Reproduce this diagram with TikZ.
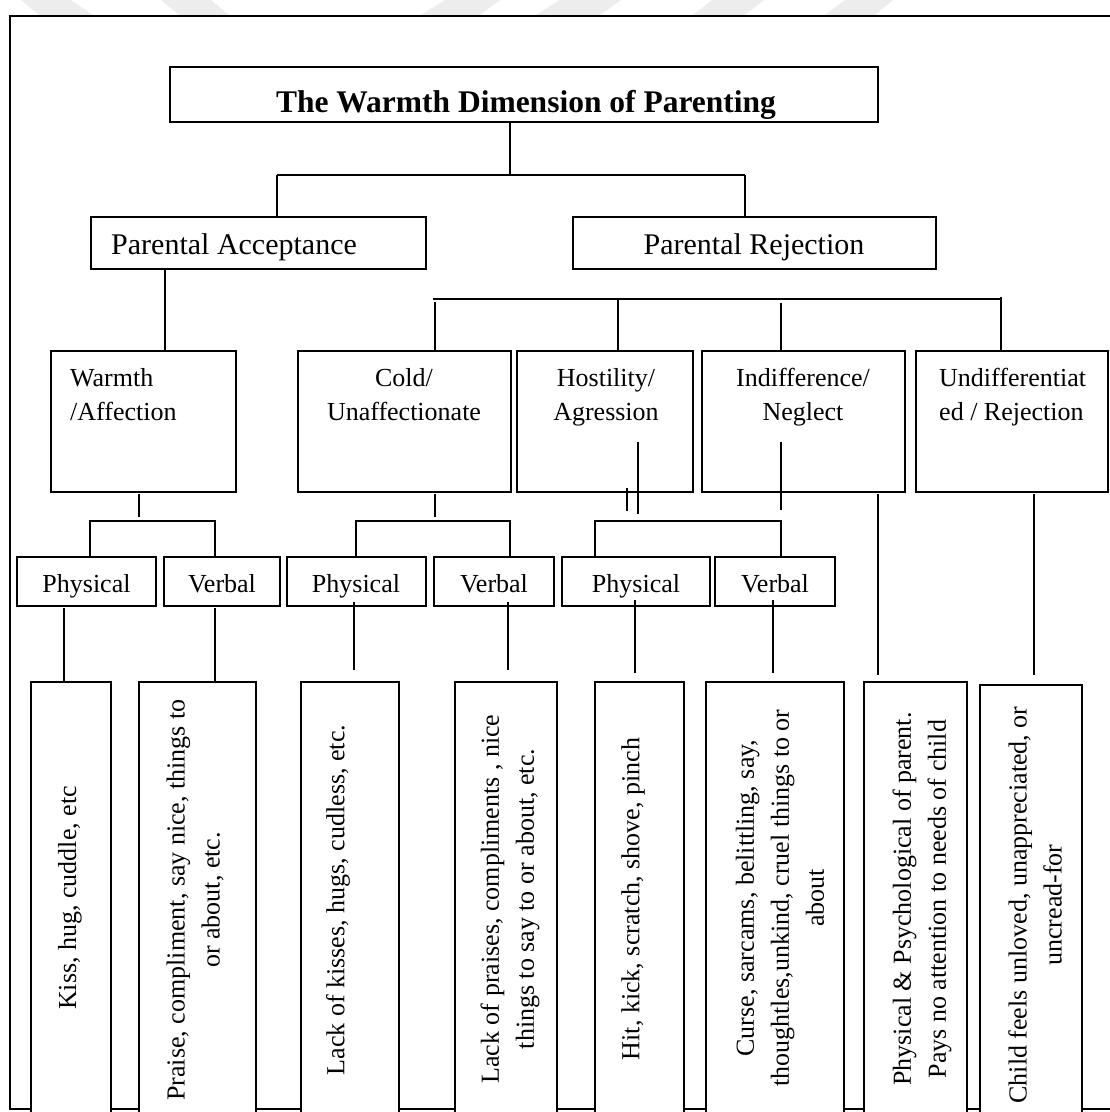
\documentclass[tikz,border=0pt]{standalone}
\usepackage{fontspec}
\setmainfont{Liberation Serif}
\begin{document}
\begin{tikzpicture}[x=1pt,y=-1pt,
  bx/.style={draw=black, line width=1.8pt, fill=white, inner sep=0pt, outer sep=0pt, anchor=north west},
  ln/.style={line width=1.6pt},
  bodytxt/.style={font=\fontsize{26}{34}\selectfont, inner sep=0pt},
  bigtxt/.style={font=\fontsize{30}{36}\selectfont, inner sep=0pt},
  vtxt/.style={font=\fontsize{26}{35}\selectfont, inner sep=0pt, rotate=90, align=center},
  wm/.style={fill=black!7}
]
\useasboundingbox (0,0) rectangle (1110,1112);
% faint watermark stripes
\fill[wm] (21,0) -- (71,0) -- (93,15) -- (39,15) -- cycle;
\fill[wm] (161,0) -- (211,0) -- (229,15) -- (179,15) -- cycle;
\fill[wm] (445,0) -- (500,0) -- (480,15) -- (421,15) -- cycle;
\fill[wm] (560,0) -- (621,0) -- (600,15) -- (536,15) -- cycle;
\fill[wm] (712,0) -- (764,0) -- (745,15) -- (693,15) -- cycle;
\fill[wm] (845,0) -- (893,0) -- (875,15) -- (825,15) -- cycle;
% outer frame
\draw[line width=2pt] (1120,16) -- (10,16) -- (10,1109) -- (1120,1109);

% boxes
\node[bx, minimum width=708pt, minimum height=55pt] (title) at (170,67) {};
\node[bx, minimum width=335pt, minimum height=52pt] (acc) at (91,217) {};
\node[bx, minimum width=363pt, minimum height=52pt] (rej) at (573,217) {};
\node[bx, minimum width=185pt, minimum height=141pt] (warm) at (51,351) {};
\node[bx, minimum width=213pt, minimum height=141pt] (cold) at (298,351) {};
\node[bx, minimum width=176pt, minimum height=141pt] (host) at (517,351) {};
\node[bx, minimum width=203pt, minimum height=141pt] (indif) at (702,351) {};
\node[bx, minimum width=192pt, minimum height=141pt] (undif) at (916,351) {};
\node[bx, minimum width=139pt, minimum height=49pt] (p1) at (17,557) {};
\node[bx, minimum width=116pt, minimum height=49pt] (v1) at (164,557) {};
\node[bx, minimum width=139pt, minimum height=49pt] (p2) at (287,557) {};
\node[bx, minimum width=120pt, minimum height=49pt] (v2) at (434,557) {};
\node[bx, minimum width=148pt, minimum height=49pt] (p3) at (562,557) {};
\node[bx, minimum width=120pt, minimum height=49pt] (v3) at (715,557) {};
\node[bx, minimum width=80pt, minimum height=445pt] (kiss) at (31,682) {};
\node[bx, minimum width=117pt, minimum height=445pt] (praise) at (139,682) {};
\node[bx, minimum width=98pt, minimum height=445pt] (lackk) at (301,682) {};
\node[bx, minimum width=102pt, minimum height=445pt] (lackp) at (455,682) {};
\node[bx, minimum width=89pt, minimum height=445pt] (hit) at (595,682) {};
\node[bx, minimum width=138pt, minimum height=445pt] (curse) at (706,682) {};
\node[bx, minimum width=103pt, minimum height=445pt] (pp) at (864,682) {};
\node[bx, minimum width=102pt, minimum height=442pt] (child) at (980,685) {};

% connector coordinates
\coordinate (t1) at (510,175);
\coordinate (tl) at (277,175);
\coordinate (tr) at (745,175);
\coordinate (a1) at (165,300);
\coordinate (rl) at (433,299);
\coordinate (rr) at (1001,299);
\coordinate (rc) at (435,302);
\coordinate (rh) at (618,299);
\coordinate (ri) at (781,303);
\coordinate (ru) at (1001,297);
\coordinate (w0) at (139,494);
\coordinate (w1) at (139,517);
\coordinate (wl) at (90,521);
\coordinate (wr) at (215,521);
\coordinate (c0) at (435,494);
\coordinate (c1) at (435,517);
\coordinate (cl) at (356,521);
\coordinate (cr) at (510,521);
\coordinate (h0) at (638,442);
\coordinate (h1) at (638,514);
\coordinate (s0) at (627,488);
\coordinate (s1) at (627,511);
\coordinate (n0) at (781,442);
\coordinate (n1) at (781,510);
\coordinate (hl) at (595,521);
\coordinate (hr) at (781,521);
\coordinate (k0) at (64,608);
\coordinate (q0) at (215,608);
\coordinate (m0) at (354,602);
\coordinate (m1) at (354,670);
\coordinate (o0) at (508,602);
\coordinate (o1) at (508,670);
\coordinate (x0) at (635,600);
\coordinate (x1) at (635,673);
\coordinate (y0) at (773,600);
\coordinate (y1) at (773,673);
\coordinate (g0) at (878,494);
\coordinate (g1) at (878,675);
\coordinate (u0) at (1034,494);
\coordinate (u1) at (1034,675);

% connectors
\draw[ln] (t1 |- title.south) -- (t1);
\draw[ln] (tl) -- (tr);
\draw[ln] (tl) -- (tl |- acc.north);
\draw[ln] (tr) -- (tr |- rej.north);
\draw[ln] (a1 |- acc.south) -- (a1 |- warm.north);
\draw[ln] (rl) -- (rr) -- (ru);
\draw[ln] (rc) -- (rc |- cold.north);
\draw[ln] (rh) -- (rh |- host.north);
\draw[ln] (ri) -- (ri |- indif.north);
\draw[ln] (ru) -- (ru |- undif.north);
\draw[ln] (w0) -- (w1);
\draw[ln] (wl |- p1.north) -- (wl) -- (wr) -- (wr |- v1.north);
\draw[ln] (c0) -- (c1);
\draw[ln] (cl |- p2.north) -- (cl) -- (cr) -- (cr |- v2.north);
\draw[ln] (h0) -- (h1);
\draw[ln] (s0) -- (s1);
\draw[ln] (n0) -- (n1);
\draw[ln] (hl |- p3.north) -- (hl) -- (hr) -- (hr |- v3.north);
\draw[ln] (k0) -- (k0 |- kiss.north);
\draw[ln] (q0) -- (q0 |- praise.north);
\draw[ln] (m0) -- (m1);
\draw[ln] (o0) -- (o1);
\draw[ln] (x0) -- (x1);
\draw[ln] (y0) -- (y1);
\draw[ln] (g0) -- (g1);
\draw[ln] (u0) -- (u1);

% texts
\node[font=\bfseries\fontsize{31.5}{36}\selectfont, inner sep=0pt, anchor=base] (ttl) at (526,112) {The Warmth Dimension of Parenting};
\node[bigtxt, anchor=base west] (acct) at (111,254) {Parental Acceptance};
\node[bigtxt, anchor=base] (rejt) at (754,254) {Parental Rejection};
\node[bodytxt, align=left, anchor=west] (warmt) at (70,394.5) {Warmth\\/Affection};
\node[bodytxt, align=center] (coldt) at (404,394.5) {Cold/\\Unaffectionate};
\node[bodytxt, align=center] (hostt) at (606,397) {Hostility/\\Agression};
\node[bodytxt, align=center] (indift) at (803,397) {Indifference/\\Neglect};
\node[bodytxt, align=left, anchor=west] (undift) at (939,397) {Undifferentiat\\ed / Rejection};
\node[bodytxt, anchor=base] (p1t) at (86.5,592) {Physical};
\node[bodytxt, anchor=base] (v1t) at (222,592) {Verbal};
\node[bodytxt, anchor=base] (p2t) at (356,592) {Physical};
\node[bodytxt, anchor=base] (v2t) at (494,592) {Verbal};
\node[bodytxt, anchor=base] (p3t) at (636,592) {Physical};
\node[bodytxt, anchor=base] (v3t) at (775,592) {Verbal};
\node[vtxt] (kisst) at (70,898) {Kiss, hug, cuddle, etc};
\node[vtxt] (praiset) at (195,900) {Praise, compliment, say nice, things to\\or about, etc.};
\node[vtxt] (lackkt) at (338,900) {Lack of kisses, hugs, cudless, etc.};
\node[vtxt] (lackpt) at (510,899) {Lack of praises, compliments , nice\\things to say to or about, etc.};
\node[vtxt] (hitt) at (633,899) {Hit, kick, scratch, shove, pinch};
\node[vtxt] (curset) at (780,898) {Curse, sarcams, belittling, say,\\thoughtles,unkind, cruel things to or\\about};
\node[vtxt] (ppt) at (922,899) {Physical \& Psychological of parent.\\Pays no attention to needs of child};
\node[vtxt] (childt) at (1035,905) {Child feels unloved, unappreciated, or\\uncread-for};
\end{tikzpicture}
\end{document}
